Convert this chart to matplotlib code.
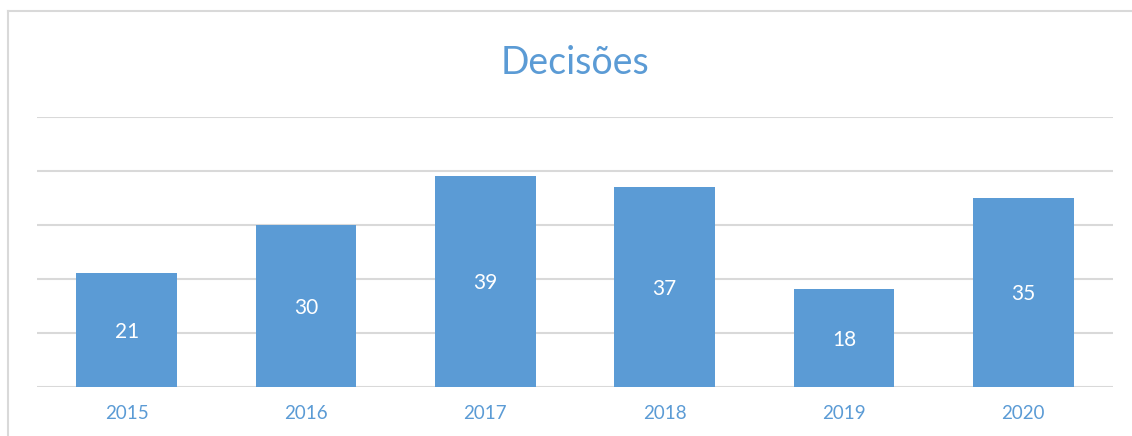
import matplotlib.pyplot as plt
from matplotlib.lines import Line2D

years = ["2015", "2016", "2017", "2018", "2019", "2020"]
decisoes = [21, 30, 39, 37, 18, 35]

blue = "#5B9BD5"
grid_col = "#D9D9D9"

plt.rcParams['font.family'] = ['Lato', 'DejaVu Sans']

fig = plt.figure(figsize=(11.32, 4.36), dpi=100)
ax = fig.add_axes([0.0327, 0.1135, 0.9505, 0.6182])

x = range(len(years))
bars = ax.bar(x, decisoes, width=0.56, color=blue, zorder=3)

for rect, v in zip(bars, decisoes):
    ax.text(rect.get_x() + rect.get_width() / 2, v / 2, str(v),
            ha="center", va="center_baseline", color="white", fontsize=15,
            zorder=4)

ax.set_xlim(-0.5, len(years) - 0.5)
ax.set_ylim(0, 50)
ax.set_yticks([0, 10, 20, 30, 40, 50])
ax.set_yticklabels([])
ax.set_xticks(list(x))
ax.set_xticklabels(years, color=blue, fontsize=13.5)
ax.tick_params(axis="both", length=0)
ax.tick_params(axis="x", pad=13)
ax.grid(axis="y", color=grid_col, linewidth=1.5, zorder=0)
for s in ax.spines.values():
    s.set_visible(False)

fig.text(0.508, 0.855, "Decisões", ha="center", va="center",
         color=blue, fontsize=27)

# borda do gráfico (só esquerda e topo aparecem)
fig.add_artist(Line2D([7.5 / 1132, 7.5 / 1132], [0, 1 - 11.5 / 436],
                      transform=fig.transFigure, color=grid_col, linewidth=1.5))
fig.add_artist(Line2D([7.5 / 1132, 1], [1 - 11.5 / 436, 1 - 11.5 / 436],
                      transform=fig.transFigure, color=grid_col, linewidth=1.5))

fig.savefig("out.png", dpi=100)
